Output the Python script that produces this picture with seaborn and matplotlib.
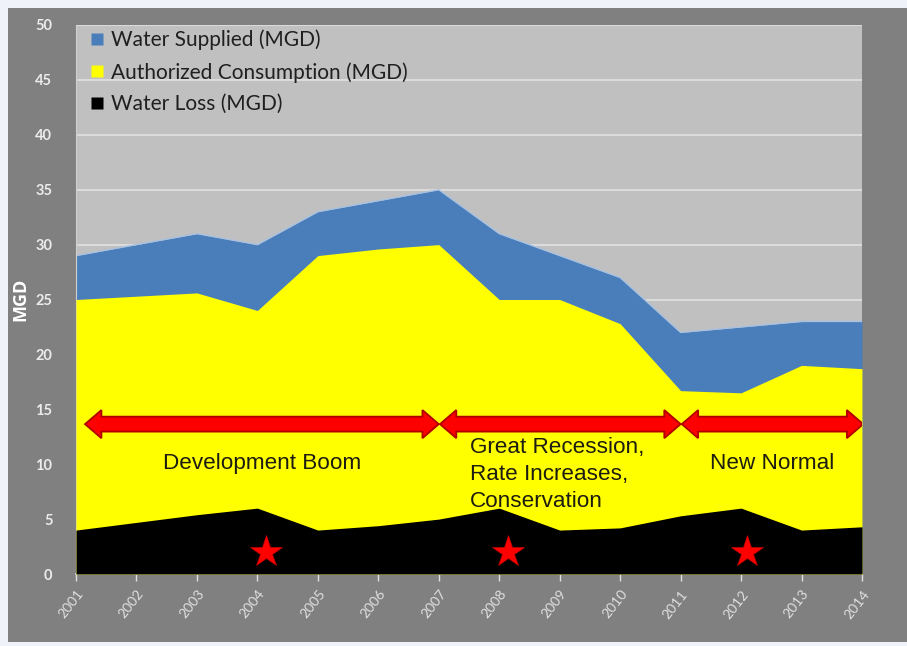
import numpy as np
import pandas as pd
import seaborn as sns
import matplotlib
matplotlib.use("Agg")
import matplotlib.pyplot as plt
from matplotlib.patches import Polygon, Rectangle
from matplotlib.lines import Line2D

# ---- data (million gallons per day) ----
years = [2001, 2002, 2003, 2004, 2005, 2006, 2007,
         2008, 2009, 2010, 2011, 2012, 2013, 2014]
water_supplied = [29, 30, 31, 30, 33, 34, 35, 31, 29, 27, 22, 22.5, 23, 23]
authorized_consumption = [25, 25.3, 25.6, 24, 29, 29.6, 30, 25, 25, 22.8,
                          16.7, 16.5, 19, 18.7]
water_loss = [4, 4.7, 5.4, 6, 4, 4.4, 5, 6, 4, 4.2, 5.3, 6, 4, 4.3]

# eras shown as double arrows: (start year, end year, label)
era_start = [2001.15, 2007.02, 2011.02]
era_end = [2007.0, 2011.0, 2014.02]
era_labels = ["Development Boom",
              "Great Recession,\nRate Increases,\nConservation",
              "New Normal"]
star_x = [2004.15, 2008.15, 2012.1]
star_y = [2, 2, 2]

df = pd.DataFrame({
    "Year": years,
    "Water Supplied (MGD)": water_supplied,
    "Authorized Consumption (MGD)": authorized_consumption,
    "Water Loss (MGD)": water_loss,
})

sns.set_style("white")
plt.rcParams["font.family"] = ["Liberation Sans", "DejaVu Sans"]

W, H = 907, 646
fig = plt.figure(figsize=(W / 100, H / 100), dpi=100, facecolor="#eff3f9")
# dark gray slide panel behind the chart
fig.patches.append(Rectangle((8 / W, 4 / H), 1, 1 - 12 / H,
                             transform=fig.transFigure, facecolor="#808080",
                             edgecolor="none", zorder=-10))

ax = fig.add_axes([76 / W, (H - 574) / H, 786 / W, 549 / H])
ax.set_facecolor("#c0c0c0")

series = [("Water Supplied (MGD)", "#4a7ebb"),
          ("Authorized Consumption (MGD)", "#ffff00"),
          ("Water Loss (MGD)", "#000000")]
handles = []
for i, (name, color) in enumerate(series):
    ax.fill_between(df["Year"], 0, df[name], color=color, lw=0, zorder=2 + i)
    handles.append(Line2D([], [], marker="s", ls="none", markersize=8,
                          markerfacecolor=color, markeredgecolor="none",
                          label=name))
# faint highlight along the top edge of the supply area
sns.lineplot(data=df, x="Year", y="Water Supplied (MGD)", ax=ax,
             color="#a9c1e0", lw=1.0, zorder=2.5, legend=False)

# horizontal gridlines
for v in range(5, 51, 5):
    ax.axhline(v, color="#dedede", lw=1.3, zorder=1)

# era double arrows
yc, body, head, hl = 13.65, 0.68, 1.28, 0.27
for x0, x1 in zip(era_start, era_end):
    pts = [(x0, yc), (x0 + hl, yc + head), (x0 + hl, yc + body),
           (x1 - hl, yc + body), (x1 - hl, yc + head), (x1, yc),
           (x1 - hl, yc - head), (x1 - hl, yc - body),
           (x0 + hl, yc - body), (x0 + hl, yc - head)]
    ax.add_patch(Polygon(pts, closed=True, facecolor="#ff0000",
                         edgecolor="#b00000", lw=1.3, zorder=6))

txt_kw = dict(fontsize=16.2, color="#1c1c10", zorder=7)
ax.text(2004.08, 10.1, era_labels[0], ha="center", va="center", **txt_kw)
ax.text(2007.52, 9.05, era_labels[1], ha="left", va="center",
        linespacing=1.38, **txt_kw)
ax.text(2012.52, 10.1, era_labels[2], ha="center", va="center", **txt_kw)

ax.plot(star_x, star_y, ls="none", marker="*", markersize=24,
        color="#ff0000", markeredgecolor="#c00000", markeredgewidth=0.5,
        zorder=7)

ax.set_xlim(2001, 2014)
ax.set_ylim(0, 50)
ax.set_xticks(years)
ax.set_xticklabels([str(y) for y in years], rotation=52, ha="right",
                   rotation_mode="anchor", color="#e0e0e0", fontsize=10,
                   family=["Lato", "DejaVu Sans"])
ax.set_yticks(range(0, 51, 5))
ax.set_yticklabels([str(v) for v in range(0, 51, 5)], color="#ececec",
                   fontsize=10.5, fontweight="bold",
                   family=["Lato", "DejaVu Sans"])
ax.tick_params(axis="x", length=5, width=1, color="#e0e0e0", pad=5,
               direction="out", bottom=True)
ax.tick_params(axis="y", length=0, pad=17)
for s in ["top", "right"]:
    ax.spines[s].set_visible(False)
ax.spines["bottom"].set_color("#e0e0e0")
ax.spines["bottom"].set_linewidth(1.2)
ax.spines["left"].set_color("#d0d0d0")
ax.spines["left"].set_linewidth(0.8)
ax.set_xlabel("")
ax.set_ylabel("MGD", color="white", fontsize=13, fontweight="bold",
              family=["Open Sans", "DejaVu Sans"], labelpad=4)

leg = ax.legend(handles=handles, loc="upper left", frameon=False,
                bbox_to_anchor=(0.004, 1.014), handlelength=0.5,
                handletextpad=0.45, labelspacing=0.56, borderaxespad=0.2,
                prop={"family": ["Lato", "DejaVu Sans"], "size": 15})
for t in leg.get_texts():
    t.set_color("#202020")
leg.set_zorder(8)

fig.savefig("out.png", dpi=100, facecolor=fig.get_facecolor())
